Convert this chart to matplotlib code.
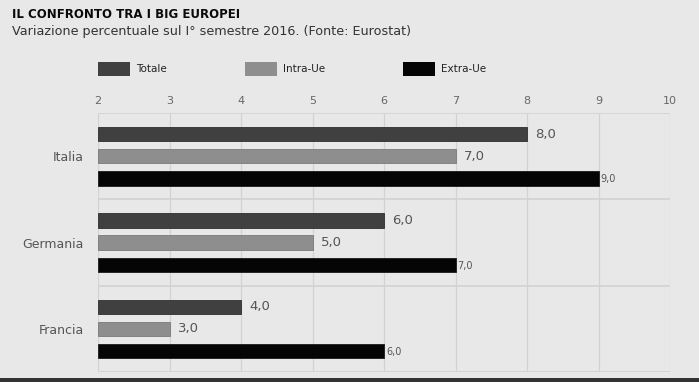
import numpy as np
import matplotlib.pyplot as plt
from matplotlib.patches import Rectangle

# Data
paesi = ['Italia', 'Germania', 'Francia']
serie = ['Totale', 'Intra-Ue', 'Extra-Ue']
totale = [8.0, 6.0, 4.0]
intra_ue = [7.0, 5.0, 3.0]
extra_ue = [9.0, 7.0, 6.0]
x_ticks = [2, 3, 4, 5, 6, 7, 8, 9, 10]

colori = ['#404040', '#8e8e8e', '#050505']
bordi = ['#2e2e2e', '#7a7a7a', '#1a1a1a']
bg = '#e8e8e8'

fig = plt.figure(figsize=(6.99, 3.82), dpi=100, facecolor=bg)
ax = fig.add_axes([98 / 699, 1 - 372 / 382, 572 / 699, 259 / 382])
ax.set_facecolor(bg)

ax.set_xlim(2, 10)
ax.set_ylim(3, 0)

centers = np.arange(len(paesi)) + 0.5
offsets = [-0.255, 0.0, 0.26]
valori = [totale, intra_ue, extra_ue]
for k, (vals, col, ec, off) in enumerate(zip(valori, colori, bordi, offsets)):
    ax.barh(centers + off, np.array(vals) - 2, left=2, height=0.165,
            color=col, edgecolor=ec, linewidth=0.6, zorder=3)
    for c, v in zip(centers, vals):
        lab = f'{v:.1f}'.replace('.', ',')
        if k == 2:
            ax.text(v + 0.03, c + off + 0.01, lab, fontsize=7, color='#555555',
                    va='center', ha='left')
        else:
            ax.text(v + 0.12, c + off, lab, fontsize=9.5, color='#555555',
                    va='center', ha='left')

# grid
for t in x_ticks:
    ax.axvline(t, color='#d2d2d2', linewidth=0.9, zorder=1)
for b in range(len(paesi) + 1):
    ax.axhline(b, color='#d2d2d2', linewidth=1.2, zorder=1)

ax.set_xticks(x_ticks)
ax.xaxis.tick_top()
ax.tick_params(axis='x', length=0, pad=5, labelsize=8, labelcolor='#666666')
ax.set_yticks(centers)
ax.set_yticklabels(paesi)
ax.tick_params(axis='y', length=0, pad=10, labelsize=9, labelcolor='#555555')
for s in ax.spines.values():
    s.set_visible(False)

# titles
fig.text(12 / 699, 1 - 14 / 382, 'IL CONFRONTO TRA I BIG EUROPEI', fontsize=8.5,
         fontweight='heavy', color='#0a0a0a', va='center', ha='left')
fig.text(12 / 699, 1 - 31 / 382,
         'Variazione percentuale sul I° semestre 2016. (Fonte: Eurostat)',
         fontsize=9.2, color='#333333', va='center', ha='left')

# legend
leg_x = [98, 245, 403]
for lx, col, name in zip(leg_x, colori, serie):
    fig.patches.append(Rectangle((lx / 699, 1 - 76 / 382), 32 / 699, 14 / 382,
                                 transform=fig.transFigure, facecolor=col,
                                 edgecolor='none'))
    fig.text((lx + 38) / 699, 1 - 69 / 382, name, fontsize=7.5,
             color='#222222', va='center', ha='left')

# bottom bar
fig.patches.append(Rectangle((0, 0), 1, 4 / 382, transform=fig.transFigure,
                             facecolor='#333333', edgecolor='none'))

plt.savefig('out.png', dpi=100, facecolor=bg)
plt.close()
